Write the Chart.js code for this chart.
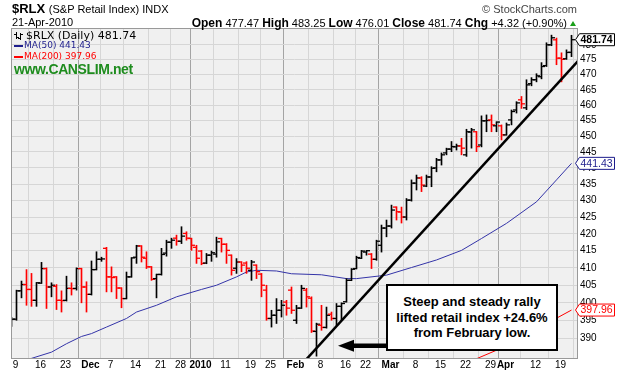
<!DOCTYPE html>
<html>
<head>
<meta charset="utf-8">
<script src="https://cdn.jsdelivr.net/npm/chart.js@4.4.1/dist/chart.umd.min.js"></script>
<style>
  html, body { margin: 0; padding: 0; background: #fff; }
  #wrap { position: relative; width: 624px; height: 374px; overflow: hidden;
          font-family: "Liberation Sans", Arial, sans-serif; color: #000; }
  #chart { position: absolute; left: 0; top: 0; }
  .t { position: absolute; white-space: nowrap; line-height: 1; }
  #title { left: 12px; top: 2.3px; font-size: 13px; font-weight: bold; }
  #title span { font-size: 11px; font-weight: normal; }
  #date { left: 12px; top: 16.7px; font-size: 11px; }
  #quote { right: 57px; top: 16.5px; font-size: 11px; }
  #quote b { font-size: 12px; }
  #credit { right: 47px; top: 3.7px; font-size: 11px; color: #444; }
  #up { position: absolute; left: 570px; top: 20.5px; width: 0; height: 0;
        border-left: 3.5px solid transparent; border-right: 3.5px solid transparent;
        border-bottom: 5px solid #1aa01a; }
  .leg { font-family: "DejaVu Sans", Verdana, sans-serif; }
  #leg1 { left: 26px; top: 30.3px; font-size: 11px; }
  #leg2 { left: 24px; top: 40.7px; font-size: 9px; color: #1c1c8c; }
  #leg3 { left: 24px; top: 51.7px; font-size: 9px; color: #ff0000; }
  .sw { position: absolute; left: 14px; width: 9px; height: 2px; }
  #canslim { left: 14px; top: 62.2px; font-size: 14px; font-weight: bold; color: #1e8c1e; letter-spacing: -0.4px; }
  #note { position: absolute; left: 386px; top: 284px; width: 172px; height: 67px; box-sizing: border-box;
          border: 2px solid #000; background: #fff; display: flex; align-items: center; justify-content: center;
          text-align: center; font-size: 13px; font-weight: bold; line-height: 15.8px; }
</style>
</head>
<body>
<div id="wrap">
  <canvas id="chart" width="624" height="374"></canvas>
  <div class="t" id="title">$RLX <span>(S&amp;P Retail Index) INDX</span></div>
  <div class="t" id="date">21-Apr-2010</div>
  <div class="t" id="quote"><b>Open</b> 477.47 <b>High</b> 483.25 <b>Low</b> 476.01 <b>Close</b> 481.74 <b>Chg</b> +4.32 (+0.90%)</div>
  <div id="up"></div>
  <div class="t" id="credit">© StockCharts.com</div>
  <div class="t leg" id="leg1">$RLX (Daily) 481.74</div>
  <div class="sw" style="top:44.5px;background:#1c1c8c"></div>
  <div class="t leg" id="leg2">MA(50) 441.43</div>
  <div class="sw" style="top:55.5px;background:#ff0000"></div>
  <div class="t leg" id="leg3">MA(200) 397.96</div>
  <div class="t" id="canslim">www.CANSLIM.net</div>
  <div id="note"><div>Steep and steady rally<br>lifted retail index +24.6%<br>from February low.</div></div>
</div>
<script>
// daily bars, index 0 = 6 Nov 2009 ... index 112 = 21 Apr 2010
const opens = [
  394.3, 395.4, 403.4, 405.2, 403.8, 400.7, 405.6, 409.8, 404.5, 404.7,
  400.7, 400.7, 404.1, 404.1, 409.8, 404.5, 402.4, 409.5, 412.5, 415.7,
  407.4, 407.4, 404.2, 401.2, 407.4, 413.1, 416.4, 412.8, 410.3, 406.9,
  408.1, 414.3, 417.5, 418.7, 417.8, 420.1, 418.6, 416.0, 414.9, 411.4,
  413.7, 414.0, 418.6, 416.9, 413.7, 409.9, 411.7, 411.4, 409.3, 410.8,
  408.2, 403.6, 395.6, 396.5, 397.9, 400.2, 403.6, 395.1, 398.5, 403.6,
  401.3, 392.0, 393.7, 393.1, 396.8, 395.6, 399.0, 400.3, 406.4, 409.8,
  412.8, 414.6, 414.0, 412.5, 416.6, 421.7, 422.3, 428.0, 426.5, 425.0,
  430.1, 435.3, 436.9, 434.4, 437.2, 440.0, 442.5, 444.7, 445.9, 446.6,
  446.9, 444.1, 451.3, 451.4, 447.2, 454.9, 455.2, 453.3, 453.3, 450.4,
  455.2, 458.4, 461.7, 459.1, 467.0, 468.3, 469.3, 473.0, 480.0, 481.7,
  475.5, 475.3, 477.47
];
const highs = [
  395.9, 403.6, 406.2, 409.5, 408.4, 405.8, 411.6, 410.0, 405.7, 405.2,
  403.4, 407.6, 405.7, 410.0, 409.9, 406.0, 412.0, 414.7, 413.1, 416.0,
  410.3, 407.5, 404.3, 408.8, 413.0, 416.6, 416.5, 414.7, 410.4, 408.2,
  415.7, 418.1, 418.7, 419.6, 422.1, 420.6, 418.7, 416.6, 415.1, 414.2,
  414.9, 419.0, 418.7, 417.1, 413.8, 412.7, 411.8, 411.8, 412.2, 410.9,
  408.4, 405.0, 397.9, 401.2, 400.7, 400.7, 404.5, 399.3, 405.0, 404.1,
  401.7, 394.3, 399.3, 398.8, 397.4, 399.8, 400.0, 406.9, 409.8, 413.4,
  415.1, 415.1, 414.2, 418.1, 422.6, 424.1, 428.6, 428.1, 428.0, 430.6,
  436.3, 437.8, 437.3, 437.8, 440.4, 443.0, 444.7, 446.2, 448.3, 447.5,
  449.3, 452.2, 452.5, 451.5, 456.5, 456.8, 456.8, 454.6, 453.6, 454.2,
  458.4, 461.1, 462.8, 468.3, 469.0, 470.3, 474.0, 480.7, 483.3, 482.3,
  477.3, 478.3, 483.25
];
const lows = [
  393.4, 395.1, 401.4, 399.3, 399.0, 399.0, 405.5, 398.4, 401.7, 398.1,
  397.4, 400.5, 402.2, 403.6, 400.0, 397.4, 402.2, 409.4, 411.9, 403.1,
  403.1, 401.2, 398.6, 401.1, 407.3, 411.3, 411.7, 409.8, 406.4, 401.4,
  407.9, 413.4, 415.7, 416.6, 417.1, 418.1, 415.1, 411.3, 410.9, 411.2,
  411.9, 413.1, 414.6, 411.3, 407.9, 408.4, 408.9, 408.4, 406.4, 406.9,
  401.7, 395.1, 393.2, 394.2, 396.0, 396.5, 397.0, 394.2, 398.4, 398.8,
  391.7, 385.2, 392.3, 392.9, 395.1, 393.7, 395.1, 400.2, 406.3, 409.7,
  412.7, 413.7, 409.8, 412.2, 414.6, 419.1, 421.7, 424.1, 423.2, 424.1,
  429.8, 433.2, 432.7, 434.2, 434.2, 438.8, 440.9, 444.1, 445.1, 445.6,
  444.1, 443.6, 446.2, 445.1, 446.6, 451.4, 451.4, 451.4, 448.8, 450.3,
  453.6, 457.4, 458.9, 458.5, 466.3, 467.6, 468.6, 472.7, 479.7, 473.3,
  467.6, 475.1, 476.01
];
const closes = [
  395.4, 403.4, 405.2, 403.8, 400.7, 405.7, 409.8, 404.5, 405.0, 400.7,
  400.6, 404.1, 404.0, 409.8, 404.5, 402.4, 409.5, 412.5, 412.6, 407.4,
  407.2, 404.2, 401.2, 407.4, 412.9, 416.4, 413.1, 410.3, 406.7, 408.1,
  413.9, 417.5, 418.1, 417.8, 419.3, 418.7, 416.6, 412.8, 411.3, 413.7,
  414.4, 417.6, 416.9, 415.1, 409.3, 411.7, 410.8, 409.9, 411.7, 408.9,
  405.0, 395.6, 396.5, 397.9, 399.3, 398.5, 397.9, 398.5, 404.1, 401.7,
  392.1, 394.0, 393.1, 396.5, 395.6, 399.0, 399.8, 406.4, 409.6, 413.0,
  414.9, 415.0, 412.5, 417.8, 421.7, 422.3, 427.1, 426.6, 425.0, 430.1,
  435.3, 436.9, 434.7, 437.2, 439.9, 442.5, 444.1, 445.9, 446.7, 446.9,
  446.2, 451.4, 452.0, 446.7, 454.9, 455.0, 453.6, 454.5, 450.4, 453.6,
  457.9, 460.7, 460.4, 466.6, 468.3, 469.6, 472.7, 480.0, 482.4, 475.5,
  475.1, 477.42, 481.74
];

// week gridlines and their labels (bar index of first trading day)
const xTickIdx = [1, 6, 11, 16, 20, 25, 30, 34, 38, 43, 48, 52, 57, 62, 67, 71, 76, 81, 86, 91, 96, 99, 105, 110];
const xTickLabels = ['9', '16', '23', 'Dec', '7', '14', '21', '28', '2010', '11', '19', '25', 'Feb', '8', '16', '22', 'Mar', '8', '15', '22', '29', 'Apr', '12', '19'];
const monthLabels = ['Dec', '2010', 'Feb', 'Mar', 'Apr'];
const yTicks = [390, 395, 400, 405, 410, 415, 420, 425, 430, 435, 440, 445, 450, 455, 460, 465, 470, 475, 480];

// moving averages
const ma50Idx = [0, 8, 11, 14, 16, 19, 23, 25, 29, 33, 38, 41, 45, 47, 49, 53, 56, 62, 67, 69, 75, 80, 85, 90, 94, 99, 105, 109, 112];
const ma50Val = [382.9, 386.3, 388.6, 390.6, 391.4, 393.2, 395.6, 397.4, 399.3, 401.7, 403.8, 405.0, 407.4, 408.8, 409.3,
                 409.1, 408.3, 408.0, 406.9, 406.9, 407.9, 410.1, 412.3, 415.1, 418.6, 423.1, 429.6, 436.3, 441.43];
const ma200Idx = [93, 98, 112];
const ma200Val = [384.5, 387.4, 397.96];

// hand drawn trend line
const trendIdx = [58, 114];
const trendVal = [382.9, 475.8];

const FONT = '"Liberation Sans", Arial, sans-serif';
const barColors = closes.map((c, i) => (i > 0 && c < closes[i - 1]) ? '#ff0000' : '#000000');
const isMonth = k => monthLabels.includes(xTickLabels[k]);
const pts = (xs, ys) => xs.map((x, k) => ({ x: x, y: ys[k] }));

function priceTag(ctx, y, text, color, bold) {
    ctx.beginPath();
    ctx.moveTo(575.5, y);
    ctx.lineTo(579.5, y - 6);
    ctx.lineTo(614.5, y - 6);
    ctx.lineTo(614.5, y + 6);
    ctx.lineTo(579.5, y + 6);
    ctx.closePath();
    ctx.fillStyle = '#fff';
    ctx.fill();
    ctx.strokeStyle = color;
    ctx.lineWidth = 1;
    ctx.stroke();
    ctx.fillStyle = color;
    ctx.font = (bold ? 'bold 10.5px ' : '10.5px ') + FONT;
    ctx.textBaseline = 'middle';
    ctx.textAlign = 'left';
    ctx.fillText(text, 580.5, y + 0.5);
}

const decor = {
    id: 'decor',
    beforeDraw(chart) {
        const { ctx, chartArea: a } = chart;
        ctx.save();
        ctx.fillStyle = '#f0f0f0';
        ctx.fillRect(a.left, a.top, a.right - a.left, a.bottom - a.top);
        ctx.restore();
    },
    afterDraw(chart) {
        const { ctx, chartArea: a } = chart;
        const y = chart.scales.y;
        ctx.save();
        // plot frame
        ctx.strokeStyle = '#999';
        ctx.lineWidth = 1;
        ctx.strokeRect(a.left - 0.5, a.top - 0.5, a.right - a.left + 1, a.bottom - a.top + 1);

        // arrow pointing at the February low
        ctx.fillStyle = '#000';
        ctx.fillRect(352, 343.5, 35, 4.5);
        ctx.beginPath();
        ctx.moveTo(338, 345.8);
        ctx.lineTo(354, 339.8);
        ctx.lineTo(354, 351.8);
        ctx.closePath();
        ctx.fill();

        // little OHLC icon in front of the legend
        ctx.fillRect(16, 32, 1, 7);
        ctx.fillRect(14, 34, 2, 1);
        ctx.fillRect(17, 37, 2, 1);
        ctx.fillRect(20, 33, 1, 7);
        ctx.fillRect(18, 38, 2, 1);
        ctx.fillRect(21, 34, 2, 1);

        // value tags on the right axis
        priceTag(ctx, y.getPixelForValue(ma200Val[ma200Val.length - 1]), ma200Val[ma200Val.length - 1].toFixed(2), '#ff0000', false);
        priceTag(ctx, y.getPixelForValue(ma50Val[ma50Val.length - 1]), ma50Val[ma50Val.length - 1].toFixed(2), '#1c1c8c', false);
        priceTag(ctx, y.getPixelForValue(closes[closes.length - 1]), closes[closes.length - 1].toFixed(2), '#000', true);
        ctx.restore();
    }
};

const chart = new Chart(document.getElementById('chart'), {
    type: 'bar',
    data: {
        datasets: [
            {
                type: 'line',
                label: 'Trend',
                data: pts(trendIdx, trendVal),
                borderColor: '#000',
                borderWidth: 2.5,
                pointRadius: 0,
                order: 0
            },
            {
                type: 'line',
                label: 'MA(50)',
                data: pts(ma50Idx, ma50Val),
                borderColor: '#3434a8',
                borderWidth: 1,
                pointRadius: 0,
                order: 5
            },
            {
                type: 'line',
                label: 'MA(200)',
                data: pts(ma200Idx, ma200Val),
                borderColor: '#ff0000',
                borderWidth: 1,
                pointRadius: 0,
                order: 5
            },
            {
                type: 'bar',
                label: 'High-Low',
                data: closes.map((c, i) => ({ x: i, y: [lows[i], highs[i]] })),
                backgroundColor: barColors,
                barThickness: 1,
                borderWidth: 0,
                order: 2
            },
            {
                type: 'line',
                label: 'Open',
                data: opens.map((v, i) => ({ x: i - 0.35, y: v })),
                showLine: false,
                pointStyle: 'line',
                pointRadius: 1.75,
                pointBorderWidth: 1.3,
                pointBorderColor: barColors,
                pointBackgroundColor: barColors,
                order: 1
            },
            {
                type: 'line',
                label: 'Close',
                data: closes.map((v, i) => ({ x: i + 0.35, y: v })),
                showLine: false,
                pointStyle: 'line',
                pointRadius: 1.75,
                pointBorderWidth: 1.3,
                pointBorderColor: barColors,
                pointBackgroundColor: barColors,
                order: 1
            }
        ]
    },
    options: {
        responsive: false,
        animation: false,
        devicePixelRatio: 1,
        events: [],
        layout: { padding: { left: 12, top: 29, right: 0, bottom: 0 } },
        plugins: {
            legend: { display: false },
            tooltip: { enabled: false }
        },
        scales: {
            x: {
                type: 'linear',
                min: 0.1,
                max: 113.1,
                offset: false,
                bounds: 'data',
                afterBuildTicks: s => { s.ticks = xTickIdx.map(i => ({ value: i - 0.2 })); },
                afterFit: s => { s.height = 16; },
                grid: {
                    drawTicks: false,
                    color: c => isMonth(c.index) ? '#a4a4a4' : '#d6d6d6'
                },
                border: { display: false },
                ticks: {
                    autoSkip: false,
                    maxRotation: 0,
                    padding: 1,
                    color: '#000',
                    font: c => ({ family: FONT, size: 10, weight: isMonth(c.index) ? 'bold' : 'normal' }),
                    callback: (v, k) => xTickLabels[k]
                }
            },
            y: {
                type: 'logarithmic',
                position: 'right',
                min: 384.7,
                max: 485.4,
                bounds: 'data',
                afterBuildTicks: s => { s.ticks = yTicks.map(v => ({ value: v })); },
                afterFit: s => { s.width = 47; },
                grid: { drawTicks: false, color: '#d6d6d6' },
                border: { display: false },
                ticks: {
                    autoSkip: false,
                    padding: 3,
                    color: '#000',
                    font: { family: FONT, size: 10 },
                    callback: v => String(v)
                }
            }
        }
    },
    plugins: [decor]
});
</script>
</body>
</html>
